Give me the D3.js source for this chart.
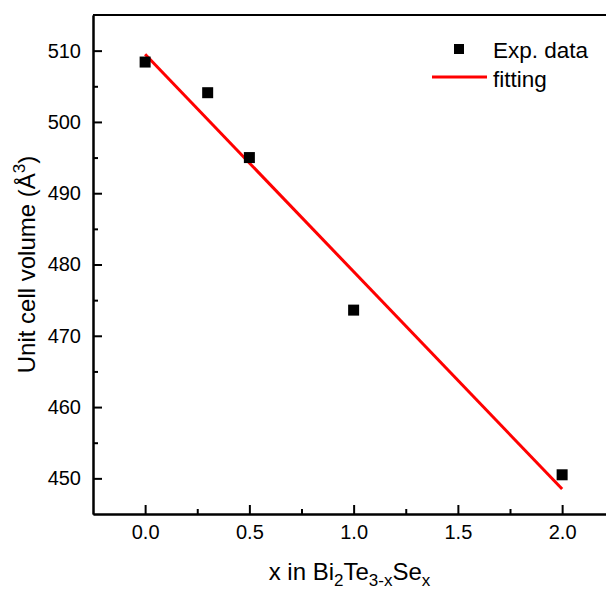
<!DOCTYPE html>
<html>
<head>
<meta charset="utf-8">
<script src="https://cdn.jsdelivr.net/npm/d3@7"></script>
<style>
    body { margin: 0; background: #fff; }
    svg { display: block; font-family: "Liberation Sans", Arial, sans-serif; }
    .axis path, .axis line { stroke: #000; stroke-width: 2; }
    .axis text { font-size: 20px; fill: #000; font-family: "Liberation Sans", Arial, sans-serif; }
</style>
</head>
<body>
<div id="chart"></div>
<script>
// data
const xValues = [0, 0.3, 0.5, 1.0, 2.0];
const volumes = [508.4, 504.1, 495.0, 473.6, 450.5];
const fitX = [0, 2];
const fitVolumes = [509.5, 448.5];
const xTicks = [0, 0.5, 1.0, 1.5, 2.0];
const xMinorTicks = [0.25, 0.75, 1.25, 1.75];
const yTicks = [450, 460, 470, 480, 490, 500, 510];
const yMinorTicks = [455, 465, 475, 485, 495, 505];
const legendLabels = ['Exp. data', 'fitting'];

const width = 606;
const height = 590;
const margin = { top: 15, right: -2, bottom: 76, left: 93 };

const svg = d3.select('#chart')
    .append('svg')
    .attr('width', width)
    .attr('height', height);

// scales
const x = d3.scaleLinear()
    .domain([-0.25, 2.22])
    .range([margin.left, width - margin.right]);

const y = d3.scaleLinear()
    .domain([445, 515])
    .range([height - margin.bottom, margin.top]);

// minor ticks
svg.append('g')
    .attr('class', 'axis')
    .attr('transform', `translate(0, ${y.range()[0]})`)
    .call(d3.axisBottom(x).tickValues(xMinorTicks).tickSizeInner(-5).tickSizeOuter(0).tickFormat(''));

svg.append('g')
    .attr('class', 'axis')
    .attr('transform', `translate(${x.range()[0]}, 0)`)
    .call(d3.axisLeft(y).tickValues(yMinorTicks).tickSizeInner(-5).tickSizeOuter(0).tickFormat(''));

// major axes
svg.append('g')
    .attr('class', 'axis')
    .attr('transform', `translate(0, ${y.range()[0]})`)
    .call(d3.axisBottom(x)
        .tickValues(xTicks)
        .tickSizeInner(-9)
        .tickSizeOuter(0)
        .tickPadding(11)
        .tickFormat(d3.format('.1f')));

svg.append('g')
    .attr('class', 'axis')
    .attr('transform', `translate(${x.range()[0]}, 0)`)
    .call(d3.axisLeft(y)
        .tickValues(yTicks)
        .tickSizeInner(-9)
        .tickSizeOuter(0)
        .tickPadding(12)
        .tickFormat(d3.format('d')));

// top frame line
svg.append('line')
    .attr('x1', x.range()[0])
    .attr('x2', x.range()[1])
    .attr('y1', y.range()[1])
    .attr('y2', y.range()[1])
    .attr('stroke', '#000')
    .attr('stroke-width', 2);

// fitting line
const fitData = fitX.map((d, i) => ({ x: d, v: fitVolumes[i] }));
const line = d3.line()
    .x(d => x(d.x))
    .y(d => y(d.v));

svg.append('path')
    .datum(fitData)
    .attr('d', line)
    .attr('fill', 'none')
    .attr('stroke', '#ff0000')
    .attr('stroke-width', 3);

// data points
const size = 11;
svg.selectAll('rect.point')
    .data(xValues.map((d, i) => ({ x: d, v: volumes[i] })))
    .enter()
    .append('rect')
    .attr('class', 'point')
    .attr('x', d => x(d.x) - size / 2)
    .attr('y', d => y(d.v) - size / 2)
    .attr('width', size)
    .attr('height', size)
    .attr('fill', '#000');

// legend
const legend = svg.append('g')
    .attr('transform', 'translate(493, 0)');

legend.append('rect')
    .attr('x', -39)
    .attr('y', 44)
    .attr('width', 10)
    .attr('height', 10)
    .attr('fill', '#000');

legend.append('line')
    .attr('x1', -61)
    .attr('x2', -6)
    .attr('y1', 77)
    .attr('y2', 77)
    .attr('stroke', '#ff0000')
    .attr('stroke-width', 3);

legend.selectAll('text')
    .data(legendLabels)
    .enter()
    .append('text')
    .attr('x', 0)
    .attr('y', (d, i) => 58 + i * 29)
    .attr('font-size', '22.5px')
    .text(d => d);

// x axis title
const xTitle = svg.append('text')
    .attr('x', (x.range()[0] + 606) / 2)
    .attr('y', 580)
    .attr('text-anchor', 'middle')
    .attr('font-size', '24px');

xTitle.append('tspan').text('x in Bi');
xTitle.append('tspan').attr('font-size', '17px').attr('dy', 6).text('2');
xTitle.append('tspan').attr('dy', -6).text('Te');
xTitle.append('tspan').attr('font-size', '17px').attr('dy', 6).text('3-x');
xTitle.append('tspan').attr('dy', -6).text('Se');
xTitle.append('tspan').attr('font-size', '17px').attr('dy', 6).text('x');

// y axis title
const yTitle = svg.append('text')
    .attr('transform', `translate(35, ${(y.range()[0] + y.range()[1]) / 2}) rotate(-90)`)
    .attr('text-anchor', 'middle')
    .attr('font-size', '24px');

yTitle.append('tspan').text('Unit cell volume (Å');
yTitle.append('tspan').attr('font-size', '17px').attr('dy', -10).text('3');
yTitle.append('tspan').attr('dy', 10).text(')');
</script>
</body>
</html>
